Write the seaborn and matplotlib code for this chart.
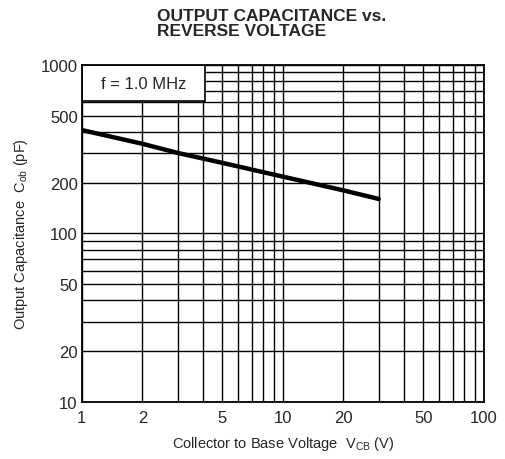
import matplotlib
matplotlib.use("Agg")
import matplotlib.pyplot as plt
import matplotlib.ticker as mticker
from matplotlib.patches import Rectangle
import seaborn as sns
import pandas as pd

# Data
vcb = [1, 2, 3, 5, 10, 20, 30]
cob = [410, 340, 300, 262, 217, 180, 160]
x_ticks = [1, 2, 5, 10, 20, 50, 100]
y_ticks = [10, 20, 50, 100, 200, 500, 1000]
title_text = "OUTPUT CAPACITANCE vs.\nREVERSE VOLTAGE"
note_text = "f = 1.0 MHz"
xlabel_text = "Collector to Base Voltage  V$_\\mathregular{CB}$ (V)"
ylabel_text = "Output Capacitance  C$_\\mathregular{ob}$ (pF)"

sns.set_style("white")
plt.rcParams['font.family'] = ['Liberation Sans', 'DejaVu Sans']
plt.rcParams['mathtext.fontset'] = 'custom'
plt.rcParams['mathtext.rm'] = 'Liberation Sans'

df = pd.DataFrame({"V": vcb, "C": cob})

fig = plt.figure(figsize=(5.05, 4.6), dpi=100)
ax = fig.add_axes([0.162, 0.124, 0.796, 0.733])
ax.set_xscale("log")
ax.set_yscale("log")
ax.set_xlim(1, 100)
ax.set_ylim(10, 1000)

# grid
ax.xaxis.set_minor_locator(mticker.LogLocator(base=10, subs=range(2, 10)))
ax.yaxis.set_minor_locator(mticker.LogLocator(base=10, subs=range(2, 10)))
ax.grid(True, which="both", color="black", linewidth=1.0)
ax.set_axisbelow(True)

sns.lineplot(data=df, x="V", y="C", ax=ax, color="black", linewidth=3.2, zorder=3)

# annotation box
ax.add_patch(Rectangle((0, 0.893), 0.306, 0.107, transform=ax.transAxes,
                       facecolor="white", edgecolor="black", linewidth=1.2, zorder=2.5))
ax.text(0.153, 0.945, note_text, transform=ax.transAxes, ha="center", va="center",
        fontsize=12, zorder=4)

ax.set_xticks(x_ticks)
ax.set_xticklabels([str(t) for t in x_ticks])
ax.set_yticks(y_ticks)
ax.set_yticklabels([str(t) for t in y_ticks])
ax.xaxis.set_minor_formatter(mticker.NullFormatter())
ax.yaxis.set_minor_formatter(mticker.NullFormatter())
ax.tick_params(which="both", length=0, labelsize=12)
ax.tick_params(axis="x", pad=6)
ax.tick_params(axis="y", pad=3)

for s in ax.spines.values():
    s.set_color("black")
    s.set_linewidth(1.3)

ax.set_xlabel(xlabel_text, fontsize=10.5, labelpad=6)
ax.set_ylabel(ylabel_text, fontsize=10.5, labelpad=8)

fig.text(0.311, 0.98, title_text, ha="left", va="top", fontsize=12.5,
         fontweight="bold", linespacing=0.95)

fig.savefig("out.png", dpi=100)
